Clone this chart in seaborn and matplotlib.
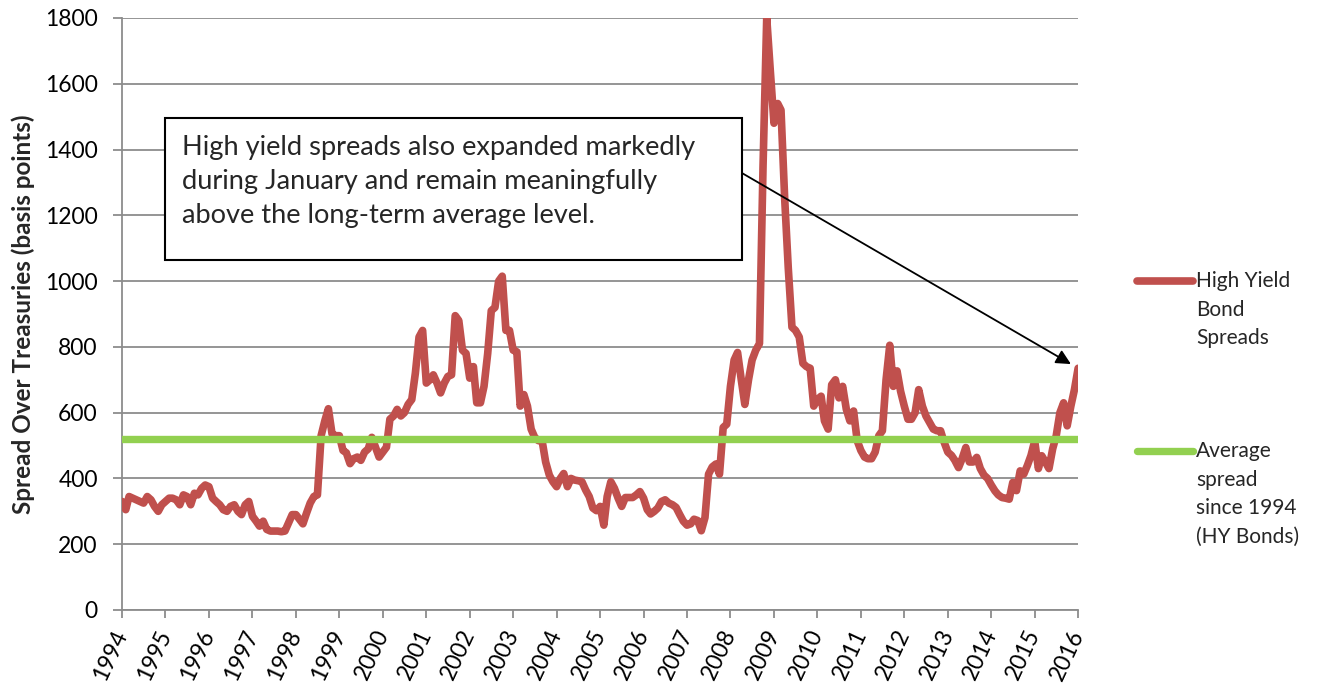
import pandas as pd
import numpy as np
import matplotlib.pyplot as plt
import seaborn as sns
from matplotlib.lines import Line2D
from matplotlib.patches import Rectangle

# monthly high yield spreads (bp), Jan 1994 .. Jan 2016
hy_spread = [
    330, 305, 345, 340, 335, 330, 325, 345, 335, 315, 300, 320,   # 1994
    330, 340, 340, 335, 320, 350, 345, 320, 355, 350, 370, 380,   # 1995
    375, 340, 330, 320, 305, 300, 315, 320, 300, 290, 320, 330,   # 1996
    285, 270, 255, 270, 245, 240, 240, 240, 238, 240, 265, 290,   # 1997
    290, 275, 262, 295, 325, 345, 350, 530, 575, 612, 535, 530,   # 1998
    530, 485, 478, 445, 460, 465, 455, 480, 490, 525, 495, 465,   # 1999
    480, 495, 580, 590, 610, 590, 600, 625, 640, 720, 830, 850,   # 2000
    690, 700, 715, 690, 660, 690, 710, 715, 895, 880, 790, 780,   # 2001
    705, 740, 630, 630, 680, 780, 910, 920, 1000, 1015, 850, 850, # 2002
    790, 785, 620, 655, 620, 550, 525, 515, 515, 450, 410, 390,   # 2003
    375, 400, 415, 375, 400, 395, 393, 390, 365, 345, 310, 302,   # 2004
    315, 258, 345, 390, 370, 340, 315, 342, 342, 342, 350, 360,   # 2005
    340, 305, 292, 300, 310, 330, 335, 325, 320, 312, 290, 270,   # 2006
    258, 262, 276, 272, 241, 281, 413, 435, 444, 413, 555, 565,   # 2007
    680, 760, 783, 700, 625, 700, 760, 790, 810, 1350, 1800, 1640, # 2008
    1480, 1540, 1520, 1250, 1040, 860, 850, 830, 750, 740, 735, 620, # 2009
    640, 650, 575, 550, 685, 700, 645, 680, 610, 575, 605, 515,   # 2010
    485, 465, 460, 460, 480, 530, 545, 700, 805, 680, 727, 665,   # 2011
    620, 580, 580, 600, 670, 620, 590, 570, 550, 545, 545, 510,   # 2012
    480, 470, 455, 433, 460, 494, 450, 450, 464, 430, 410, 400,   # 2013
    380, 362, 350, 342, 340, 337, 388, 363, 423, 413, 440, 470,   # 2014
    514, 430, 469, 450, 430, 490, 530, 600, 630, 560, 620, 670,   # 2015
    735,                                                          # 2016
]
avg_spread = 520
years = list(range(1994, 2017))

red = '#C0504D'
green = '#92D050'
grid_gray = '#8C8C8C'

sns.set_style('white')
plt.rcParams['font.family'] = ['Lato', 'DejaVu Sans']

dates = pd.date_range('1994-01-01', periods=len(hy_spread), freq='MS')
df = pd.DataFrame({'date': dates, 'spread': hy_spread})

fig = plt.figure(figsize=(13.18, 6.92), dpi=100)
ax = fig.add_axes([0.0926, 0.1185, 0.7254, 0.8555])

sns.lineplot(data=df, x='date', y='spread', color=red, lw=5.5, ax=ax,
             solid_capstyle='round', solid_joinstyle='round', zorder=3)
ax.axhline(avg_spread, color=green, lw=5.3, solid_capstyle='round', zorder=4)

ax.set_xlim(dates[0], dates[-1])
ax.set_ylim(0, 1800)
ax.set_yticks(range(0, 1801, 200))
ax.set_xticks(pd.to_datetime([f'{y}-01-01' for y in years]))
ax.set_xticklabels([str(y) for y in years], rotation=65, ha='right',
                   va='center', rotation_mode='anchor')
ax.yaxis.grid(True, color=grid_gray, lw=1.3)
ax.xaxis.grid(False)
ax.set_axisbelow(True)

for s in ['top', 'right']:
    ax.spines[s].set_visible(False)
for s in ['left', 'bottom']:
    ax.spines[s].set_color(grid_gray)
    ax.spines[s].set_linewidth(1.3)

ax.tick_params(axis='both', labelsize=16.5, colors=grid_gray, labelcolor='black')
ax.tick_params(axis='y', length=6.5, width=1.3, direction='out', left=True, pad=11)
ax.tick_params(axis='x', length=6, width=1.3, direction='out', bottom=True, pad=9)

ax.set_xlabel('')
ax.set_ylabel('Spread Over Treasuries (basis points)', fontsize=17.5,
              fontweight='bold', labelpad=7)

# annotation box + arrow to latest point
ax.add_patch(Rectangle((0.045, 0.591), 0.6035, 0.240, transform=ax.transAxes,
                       facecolor='white', edgecolor='black', lw=1.5, zorder=6))
ax.text(0.0625, 0.803,
        'High yield spreads also expanded markedly\n'
        'during January and remain meaningfully\n'
        'above the long-term average level.',
        transform=ax.transAxes, va='top', ha='left', fontsize=19.6,
        linespacing=1.45, zorder=7)
ax.annotate('', xy=(dates[-1], hy_spread[-1]), xycoords='data',
            xytext=(0.6485, 0.738), textcoords='axes fraction',
            arrowprops=dict(arrowstyle='-|>', color='black', lw=1.3,
                            mutation_scale=22, shrinkA=0, shrinkB=6),
            zorder=8)

# legend on the right
fig.add_artist(Line2D([0.8627, 0.9052], [1 - 281 / 692] * 2, color=red, lw=5.5,
                      solid_capstyle='round', transform=fig.transFigure))
fig.add_artist(Line2D([0.8627, 0.9052], [1 - 451 / 692] * 2, color=green, lw=5.3,
                      solid_capstyle='round', transform=fig.transFigure))
fig.text(0.9074, 1 - 271 / 692, 'High Yield\nBond\nSpreads', va='top',
         ha='left', fontsize=15, linespacing=1.54)
fig.text(0.9074, 1 - 441 / 692, 'Average\nspread\nsince 1994\n(HY Bonds)',
         va='top', ha='left', fontsize=15, linespacing=1.54)

fig.savefig('out.png', dpi=100, facecolor='white')
